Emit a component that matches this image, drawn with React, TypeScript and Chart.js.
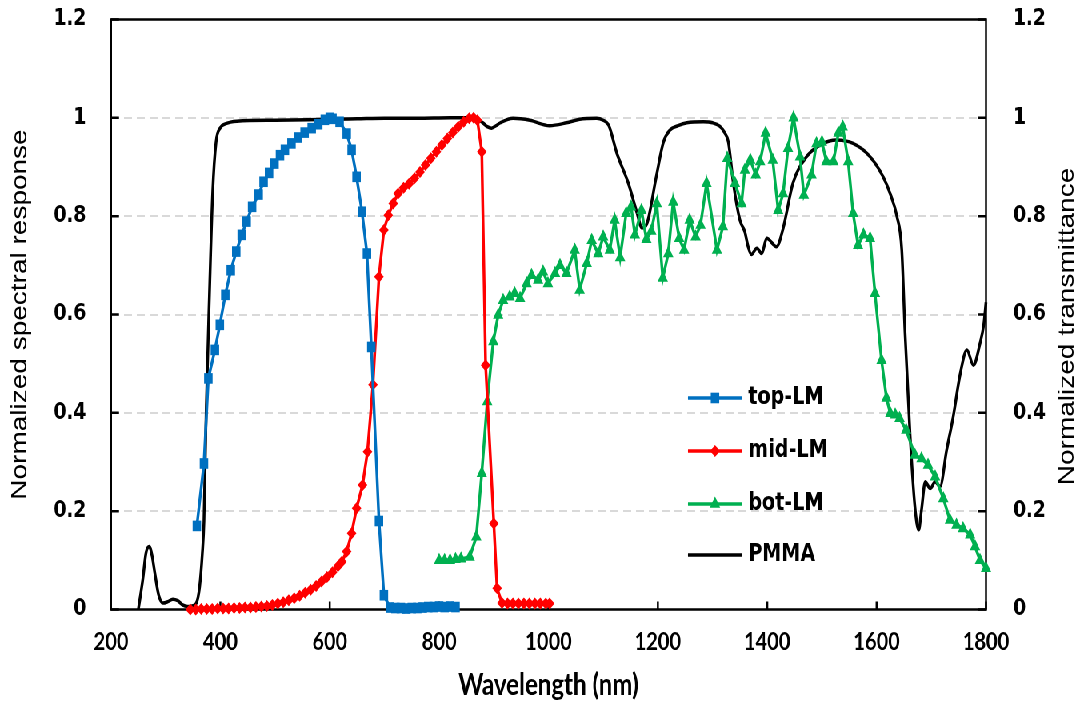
import React, { useEffect, useRef } from 'react';
import { Chart, registerables } from 'chart.js';

Chart.register(...registerables);

// ---- data (wavelength in nm, normalized values) ----
const topX = [357, 370, 378, 390, 399, 409, 419, 429, 439, 448, 458, 470, 479, 489, 499, 509, 518, 530, 542, 554, 567, 579, 591, 600, 605, 618, 631, 640, 649, 659, 668, 676, 690, 699, 710, 720, 730, 740, 750, 760, 770, 780, 790, 800, 810, 820, 830];
const topY = [0.17, 0.297, 0.47, 0.528, 0.579, 0.64, 0.69, 0.728, 0.762, 0.789, 0.819, 0.844, 0.87, 0.888, 0.907, 0.924, 0.935, 0.948, 0.96, 0.97, 0.979, 0.987, 0.996, 1.0, 0.998, 0.992, 0.968, 0.935, 0.88, 0.809, 0.724, 0.534, 0.18, 0.029, 0.004, 0.003, 0.003, 0.002, 0.003, 0.003, 0.004, 0.005, 0.005, 0.006, 0.005, 0.006, 0.005];

const midX = [345, 355, 365, 375, 385, 395, 405, 415, 425, 435, 445, 455, 465, 475, 485, 495, 505, 515, 525, 535, 545, 555, 565, 575, 585, 595, 605, 615, 622, 631, 640, 649, 660, 669, 679, 690, 699, 707, 716, 725, 735, 745, 755, 765, 775, 785, 795, 805, 815, 825, 835, 845, 855, 863, 870, 878, 885, 900, 906, 915, 925, 935, 945, 955, 965, 975, 985, 995, 1002];
const midY = [0.0, 0.0, 0.001, 0.001, 0.001, 0.002, 0.002, 0.002, 0.003, 0.003, 0.004, 0.004, 0.005, 0.006, 0.007, 0.009, 0.012, 0.015, 0.019, 0.023, 0.028, 0.034, 0.04, 0.048, 0.057, 0.066, 0.076, 0.088, 0.097, 0.118, 0.155, 0.206, 0.253, 0.321, 0.457, 0.677, 0.772, 0.802, 0.826, 0.846, 0.858, 0.866, 0.877, 0.89, 0.904, 0.918, 0.931, 0.945, 0.958, 0.97, 0.982, 0.992, 0.999, 1.0, 0.995, 0.931, 0.497, 0.175, 0.043, 0.013, 0.012, 0.012, 0.012, 0.012, 0.012, 0.012, 0.012, 0.012, 0.012];

const botX = [800, 810, 820, 830, 840, 856, 868, 878, 888, 899, 908, 917, 929, 938, 948, 960, 969, 981, 990, 999, 1012, 1021, 1033, 1048, 1057, 1070, 1079, 1091, 1100, 1112, 1121, 1131, 1142, 1151, 1158, 1170, 1179, 1188, 1198, 1209, 1219, 1228, 1239, 1248, 1258, 1269, 1278, 1289, 1308, 1319, 1327, 1341, 1353, 1359, 1369, 1379, 1387, 1397, 1410, 1420, 1429, 1438, 1448, 1460, 1467, 1481, 1490, 1500, 1508, 1521, 1530, 1538, 1548, 1557, 1566, 1576, 1588, 1597, 1609, 1618, 1625, 1634, 1642, 1654, 1670, 1682, 1694, 1707, 1722, 1734, 1746, 1758, 1771, 1780, 1789, 1800];
const botY = [0.1, 0.1, 0.1, 0.102, 0.103, 0.107, 0.148, 0.277, 0.423, 0.545, 0.599, 0.629, 0.636, 0.643, 0.633, 0.663, 0.68, 0.67, 0.687, 0.663, 0.684, 0.7, 0.684, 0.731, 0.65, 0.704, 0.751, 0.724, 0.758, 0.731, 0.792, 0.716, 0.806, 0.819, 0.762, 0.812, 0.753, 0.77, 0.826, 0.674, 0.724, 0.829, 0.755, 0.731, 0.792, 0.758, 0.782, 0.867, 0.731, 0.779, 0.918, 0.867, 0.826, 0.894, 0.914, 0.884, 0.911, 0.969, 0.914, 0.812, 0.846, 0.938, 1.0, 0.921, 0.843, 0.884, 0.948, 0.951, 0.911, 0.911, 0.969, 0.982, 0.911, 0.806, 0.741, 0.762, 0.755, 0.643, 0.507, 0.43, 0.399, 0.396, 0.389, 0.365, 0.314, 0.307, 0.294, 0.27, 0.226, 0.182, 0.172, 0.165, 0.152, 0.128, 0.1, 0.084];

const pmmaX = [250, 258, 264, 270, 275, 280, 287, 295, 304, 313, 322, 330, 340, 350, 356, 362, 367, 370, 374, 380, 386, 392, 400, 410, 430, 500, 560, 600, 650, 700, 760, 820, 860, 870, 880, 888, 896, 904, 912, 935, 966, 1002, 1033, 1057, 1088, 1100, 1110, 1125, 1146, 1162, 1171, 1180, 1197, 1210, 1222, 1237, 1253, 1283, 1300, 1313, 1322, 1329, 1338, 1350, 1359, 1365, 1371, 1381, 1390, 1399, 1417, 1429, 1447, 1472, 1497, 1527, 1557, 1588, 1612, 1625, 1637, 1646, 1652, 1661, 1670, 1677, 1682, 1689, 1698, 1707, 1716, 1728, 1740, 1753, 1765, 1777, 1789, 1796, 1800];
const pmmaY = [0.0, 0.06, 0.115, 0.128, 0.11, 0.075, 0.03, 0.013, 0.016, 0.021, 0.018, 0.01, 0.006, 0.008, 0.013, 0.046, 0.114, 0.18, 0.4, 0.64, 0.85, 0.95, 0.98, 0.988, 0.993, 0.995, 0.996, 0.997, 0.998, 0.999, 0.999, 1.0, 1.0, 0.997, 0.99, 0.982, 0.979, 0.984, 0.99, 0.999, 0.995, 0.984, 0.99, 0.997, 0.999, 0.995, 0.985, 0.928, 0.867, 0.806, 0.776, 0.785, 0.88, 0.95, 0.975, 0.984, 0.99, 0.992, 0.99, 0.983, 0.97, 0.95, 0.867, 0.792, 0.768, 0.738, 0.722, 0.735, 0.724, 0.755, 0.738, 0.775, 0.867, 0.921, 0.945, 0.955, 0.948, 0.921, 0.88, 0.845, 0.8, 0.731, 0.562, 0.358, 0.209, 0.162, 0.202, 0.26, 0.246, 0.26, 0.25, 0.324, 0.392, 0.48, 0.528, 0.497, 0.541, 0.58, 0.625];

const seriesNames = ['top-LM', 'mid-LM', 'bot-LM', 'PMMA'];
const seriesColors = ['#0070C0', '#FF0000', '#00B050', '#000000'];
const xTitle = 'Wavelength (nm)';
const yTitle = 'Normalized spectral response';
const y2Title = 'Normalized transmittance';

// ---- layout (canvas is drawn wide and squeezed horizontally like the source) ----
const SX = 0.8;
const W = 1354;
const H = 701;

const pts = (xs: number[], ys: number[]) => xs.map((x, i) => ({ x, y: ys[i] }));
const fmt = (v: number) => String(Math.round(v * 10) / 10);

export default function App() {
  const ref = useRef<HTMLCanvasElement>(null);

  useEffect(() => {
    const canvas = ref.current;
    if (!canvas) return;

    const framePlugin = {
      id: 'frame',
      beforeDatasetsDraw(chart: any) {
        const { ctx, chartArea: a, scales } = chart;
        ctx.save();
        ctx.strokeStyle = '#000';
        ctx.lineWidth = 2.5;
        ctx.beginPath();
        scales.x.ticks.forEach((t: any) => {
          const px = scales.x.getPixelForValue(t.value);
          ctx.moveTo(px, a.bottom);
          ctx.lineTo(px, a.bottom - 8);
        });
        scales.y.ticks.forEach((t: any) => {
          const py = scales.y.getPixelForValue(t.value);
          ctx.moveTo(a.left, py);
          ctx.lineTo(a.left + 10, py);
          ctx.moveTo(a.right, py);
          ctx.lineTo(a.right - 10, py);
        });
        ctx.stroke();
        ctx.strokeRect(a.left, a.top, a.right - a.left, a.bottom - a.top);
        ctx.restore();
      },
      afterDraw(chart: any) {
        const { ctx, chartArea: a } = chart;
        const w = a.right - a.left;
        const h = a.bottom - a.top;
        ctx.save();
        // right axis title, reading bottom-to-top
        ctx.font = '28px "Liberation Sans", Arial, sans-serif';
        ctx.fillStyle = '#000';
        ctx.textAlign = 'center';
        ctx.textBaseline = 'middle';
        ctx.translate(W - 20, (a.top + a.bottom) / 2 + 12);
        ctx.rotate(-Math.PI / 2);
        ctx.fillText(y2Title, 0, 0);
        ctx.restore();

        // legend
        const rows = [0.6415, 0.7314, 0.8212, 0.9076];
        const x0 = a.left + 0.6594 * w;
        const x1 = a.left + 0.7212 * w;
        const xt = a.left + 0.7282 * w;
        const xm = (x0 + x1) / 2;
        chart.data.datasets.forEach((ds: any, i: number) => {
          const y = a.top + rows[i] * h;
          ctx.save();
          ctx.strokeStyle = ds.borderColor;
          ctx.lineWidth = ds.borderWidth;
          ctx.beginPath();
          ctx.moveTo(x0, y);
          ctx.lineTo(x1, y);
          ctx.stroke();
          const r = ds.pointRadius;
          if (r > 0) {
            ctx.fillStyle = ds.backgroundColor;
            ctx.beginPath();
            if (ds.pointStyle === 'rect') {
              const s = Math.SQRT1_2 * r;
              ctx.rect(xm - s, y - s, 2 * s, 2 * s);
            } else if (ds.pointStyle === 'rectRot') {
              ctx.moveTo(xm - r, y);
              ctx.lineTo(xm, y - r);
              ctx.lineTo(xm + r, y);
              ctx.lineTo(xm, y + r);
              ctx.closePath();
            } else if (ds.pointStyle === 'triangle') {
              const sx = r * Math.sin((2 * Math.PI) / 3);
              const cy = r * Math.cos((2 * Math.PI) / 3);
              ctx.moveTo(xm, y - r);
              ctx.lineTo(xm + sx, y - cy);
              ctx.lineTo(xm - sx, y - cy);
              ctx.closePath();
            }
            ctx.fill();
          }
          ctx.font = 'bold 24px "DejaVu Sans", Verdana, sans-serif';
          ctx.fillStyle = '#000';
          ctx.textAlign = 'left';
          ctx.textBaseline = 'middle';
          ctx.fillText(ds.label, xt, y);
          ctx.restore();
        });
      },
    };

    const tickFontY = { family: '"DejaVu Sans", Verdana, sans-serif', size: 23, weight: 'bold' as const };
    const noPad = (s: any) => {
      s.paddingTop = 0;
      s.paddingBottom = 0;
    };

    const chart = new Chart(canvas, {
      type: 'line',
      data: {
        datasets: [
          {
            label: seriesNames[0],
            data: pts(topX, topY),
            borderColor: seriesColors[0],
            backgroundColor: seriesColors[0],
            borderWidth: 3.5,
            pointStyle: 'rect',
            pointRadius: 7.5,
            pointBorderWidth: 0,
            tension: 0,
            yAxisID: 'y',
            clip: false as any,
          },
          {
            label: seriesNames[1],
            data: pts(midX, midY),
            borderColor: seriesColors[1],
            backgroundColor: seriesColors[1],
            borderWidth: 3.5,
            pointStyle: 'rectRot',
            pointRadius: 6,
            pointBorderWidth: 0,
            tension: 0,
            yAxisID: 'y',
            clip: false as any,
          },
          {
            label: seriesNames[2],
            data: pts(botX, botY),
            borderColor: seriesColors[2],
            backgroundColor: seriesColors[2],
            borderWidth: 3.5,
            pointStyle: 'triangle',
            pointRadius: 7.5,
            pointBorderWidth: 0,
            tension: 0,
            yAxisID: 'y',
            clip: false as any,
          },
          {
            label: seriesNames[3],
            data: pts(pmmaX, pmmaY),
            borderColor: seriesColors[3],
            backgroundColor: seriesColors[3],
            borderWidth: 3.5,
            pointRadius: 0,
            cubicInterpolationMode: 'monotone',
            yAxisID: 'y1',
            clip: false as any,
          },
        ],
      },
      options: {
        responsive: false,
        animation: false,
        events: [],
        layout: { padding: { top: 19.5, left: 0, right: 0, bottom: 0 } },
        plugins: {
          legend: { display: false },
          tooltip: { enabled: false },
        },
        scales: {
          x: {
            type: 'linear',
            min: 200,
            max: 1800,
            afterFit: (s: any) => {
              s.height = 91.5;
              s.paddingLeft = 0;
              s.paddingRight = 0;
            },
            ticks: {
              stepSize: 200,
              color: '#000',
              padding: 17,
              maxRotation: 0,
              font: { family: 'Lato, "Open Sans", sans-serif', size: 25, weight: 'bold' },
              callback: (v: any) => String(v),
            },
            grid: { display: false, drawTicks: false },
            border: { display: false },
            title: {
              display: true,
              text: xTitle,
              color: '#000',
              font: { family: 'Lato, "Open Sans", sans-serif', size: 30, weight: 'bold', lineHeight: 1 },
              padding: { top: 0, bottom: 1 },
            },
          },
          y: {
            type: 'linear',
            position: 'left',
            min: 0,
            max: 1.2,
            afterFit: (s: any) => {
              s.width = 138.75;
              noPad(s);
            },
            ticks: { stepSize: 0.2, color: '#000', padding: 31, font: tickFontY, callback: (v: any) => fmt(v) },
            grid: {
              drawTicks: false,
              lineWidth: 2,
              color: (c: any) => (c.tick && c.tick.value > 0.01 && c.tick.value < 1.15 ? '#d9d9d9' : 'rgba(0,0,0,0)'),
            },
            border: { display: false, dash: [10, 6] },
            title: {
              display: true,
              text: yTitle,
              color: '#000',
              font: { family: '"Liberation Sans", Arial, sans-serif', size: 28, lineHeight: 1 },
              padding: { top: 11, bottom: 0 },
            },
          },
          y1: {
            type: 'linear',
            position: 'right',
            min: 0,
            max: 1.2,
            afterFit: (s: any) => {
              s.width = W - 1232.5;
              noPad(s);
            },
            ticks: { stepSize: 0.2, color: '#000', padding: 34, font: tickFontY, callback: (v: any) => fmt(v) },
            grid: { display: false, drawTicks: false },
            border: { display: false },
          },
        },
      },
      plugins: [framePlugin],
    } as any);

    return () => chart.destroy();
  }, []);

  return (
    <div
      style={{
        position: 'fixed',
        left: 0,
        top: 0,
        width: W,
        height: H,
        transform: `scaleX(${SX})`,
        transformOrigin: '0 0',
        background: '#fff',
      }}
    >
      <canvas ref={ref} width={W} height={H} style={{ display: 'block' }} />
    </div>
  );
}
